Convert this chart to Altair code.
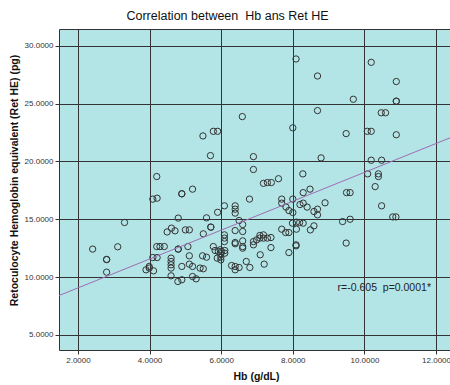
import altair as alt
import pandas as pd

# Hb (g/dL) values
hb = [
    4.20, 8.09, 8.69, 8.69, 6.59, 5.49, 5.78, 5.90, 8.00, 5.70, 6.90, 8.79, 6.90, 7.60, 8.28,
    10.19, 10.89, 9.69, 10.89, 10.89, 10.47, 10.59, 9.49, 10.08, 10.19, 10.89, 10.19, 10.48, 10.09, 10.39, 10.39,
    10.30, 9.50, 9.60, 10.48, 8.90, 10.79, 10.88, 8.48, 9.39, 9.60, 9.49,
    4.09, 4.21, 4.90, 4.90, 4.80, 3.30, 4.49, 4.61, 4.71, 5.00, 5.11, 2.41, 3.11, 4.20, 4.29, 4.41,
    4.80, 4.80, 5.07, 4.09, 4.21, 2.80, 2.80, 4.60, 4.60, 4.60, 4.60, 4.90, 5.11, 3.99, 3.99, 3.90, 4.11,
    2.80, 4.60, 4.79, 4.90,
    5.20, 7.18, 7.29, 7.40, 8.29, 6.09, 6.39, 6.39, 6.39, 6.79, 5.90, 5.59, 6.50, 6.60, 7.69, 7.69,
    8.00, 7.81, 7.89, 8.20, 8.29, 8.40, 8.00, 8.59, 8.69, 8.69, 7.99, 8.10, 8.19, 8.29, 8.59, 8.49,
    8.10, 7.69, 7.80, 7.89, 5.50, 5.71, 5.71, 6.09, 6.09, 6.09, 6.39, 6.60, 7.08, 7.18, 7.18, 7.08,
    7.29, 6.99, 6.90, 6.90, 7.39, 6.39, 6.39, 6.60, 6.60, 6.60, 7.39, 5.78, 5.83, 5.92, 5.97, 6.01,
    6.10, 6.10, 5.99, 5.99, 5.99, 5.89, 5.11, 5.48, 5.59, 5.20, 5.41, 5.50, 7.09, 6.70, 6.80, 7.20,
    6.29, 6.39, 6.39, 6.50, 7.89, 8.09, 8.09, 5.20, 5.30,
]
# Ret HE (pg) values
ret_he = [
    18.69, 28.85, 27.38, 24.39, 23.87, 22.20, 22.60, 22.60, 22.90, 20.50, 20.41, 20.30, 19.30, 18.50, 18.92,
    28.56, 26.90, 25.37, 25.20, 25.20, 24.20, 24.20, 22.40, 22.60, 22.60, 22.30, 20.10, 20.10, 18.92, 18.92, 18.69,
    17.82, 17.30, 17.30, 16.16, 16.42, 15.20, 15.20, 17.60, 14.80, 15.00, 12.94,
    16.74, 16.82, 17.20, 17.20, 15.10, 14.72, 13.90, 14.23, 14.00, 14.08, 14.08, 12.42, 12.62, 12.64, 12.64, 12.64,
    12.42, 12.42, 12.64, 11.69, 11.69, 11.52, 11.52, 11.64, 11.35, 11.06, 10.78, 10.92, 11.12, 10.92, 10.78, 10.63, 10.54,
    10.43, 10.11, 9.62, 9.77,
    17.60, 18.10, 18.17, 18.17, 17.30, 16.16, 16.16, 15.87, 15.53, 16.74, 15.60, 15.12, 14.89, 14.54, 16.74, 16.39,
    16.74, 16.05, 15.75, 16.27, 16.39, 16.05, 15.58, 15.67, 15.87, 15.38, 14.66, 14.75, 14.72, 14.66, 14.43, 14.08,
    14.14, 14.14, 13.85, 13.85, 13.74, 14.32, 14.32, 13.65, 13.37, 13.07, 14.02, 13.94, 13.60, 13.65, 13.37, 13.37,
    13.37, 13.22, 13.07, 12.79, 13.42, 12.99, 12.88, 13.13, 12.64, 12.50, 12.55, 12.64, 12.30, 12.21, 12.36, 12.21,
    12.30, 12.07, 12.01, 11.72, 11.49, 11.64, 11.84, 11.84, 11.72, 10.92, 10.78, 10.72, 11.93, 11.35, 10.83, 11.12,
    11.00, 10.92, 10.63, 10.83, 12.12, 12.79, 12.70, 10.05, 9.85,
]

x_ticks = [2, 4, 6, 8, 10, 12]
y_ticks = [5, 10, 15, 20, 25, 30]
x_domain = [1.47, 12.39]
y_domain = [3.7, 31.44]

# Linear fit line as reported in the chart (intercept, slope)
fit_intercept = 6.57
fit_slope = 1.248
fit_x = x_domain

note_text = ["r=-0.605\u00a0 p=0.0001*"]
note_x = [9.25]
note_y = [9.08]

df = pd.DataFrame({"hb": hb, "ret": ret_he})
fit_df = pd.DataFrame({"hb": fit_x})
notes = pd.DataFrame({"x": note_x, "y": note_y, "t": note_text})

FONT = "Liberation Sans"

xs = alt.Scale(domain=x_domain, nice=False, zero=False)
ys = alt.Scale(domain=y_domain, nice=False, zero=False)

x_axis = alt.Axis(
    values=x_ticks, format=".4f", title="Hb (g/dL)", grid=True,
    labelFont=FONT, labelFontSize=8, labelColor="#333", tickSize=4, tickColor="#333",
    labelPadding=2, domain=False,
    titleFont=FONT, titleFontSize=10.5, titleFontWeight="bold", titleColor="#111",
    titleX=197, titleY=26, titleBaseline="middle", titleAlign="center",
)
y_axis = alt.Axis(
    values=y_ticks, format=".4f", title="Retoculocyte Hemoglobin equivalent (Ret HE) (pg)", grid=True,
    labelFont=FONT, labelFontSize=8, labelColor="#333", tickSize=4, tickColor="#333",
    labelPadding=2, domain=False,
    titleFont=FONT, titleFontSize=10.5, titleFontWeight="bold", titleColor="#111",
    titleX=-45, titleY=151, titleAngle=270, titleBaseline="middle", titleAlign="center",
)

points = alt.Chart(df).mark_point(
    shape="circle", filled=False, size=40, stroke="#333", strokeWidth=1, opacity=1
).encode(
    x=alt.X("hb:Q", scale=xs, axis=x_axis),
    y=alt.Y("ret:Q", scale=ys, axis=y_axis),
)

fit = alt.Chart(fit_df).transform_calculate(
    ret=f"{fit_intercept} + {fit_slope} * datum.hb"
).mark_line(color="#9E6DB5", strokeWidth=1, clip=True).encode(
    x=alt.X("hb:Q", scale=xs),
    y=alt.Y("ret:Q", scale=ys),
)

note = alt.Chart(notes).mark_text(
    align="left", baseline="middle", font=FONT, fontSize=10.5, color="#222"
).encode(
    x=alt.X("x:Q", scale=xs),
    y=alt.Y("y:Q", scale=ys),
    text="t:N",
)

chart = alt.layer(points, fit, note).properties(
    width=391, height=321,
    background="white",
    autosize=alt.AutoSizeParams(type="none"),
    padding={"left": 59, "top": 29, "right": 0, "bottom": 35},
    title=alt.TitleParams(
        text="Correlation between\u00a0 Hb ans Ret HE", font=FONT, fontSize=12.5,
        fontWeight="normal", color="#111", anchor="middle", dx=-27, offset=7,
    ),
).configure_view(
    fill="#B4E5E6", stroke="#333", strokeWidth=1
).configure_axis(
    gridColor="#333", gridOpacity=1, gridWidth=1
)

chart.save("out.html", embed_options={"renderer": "svg", "actions": False})
